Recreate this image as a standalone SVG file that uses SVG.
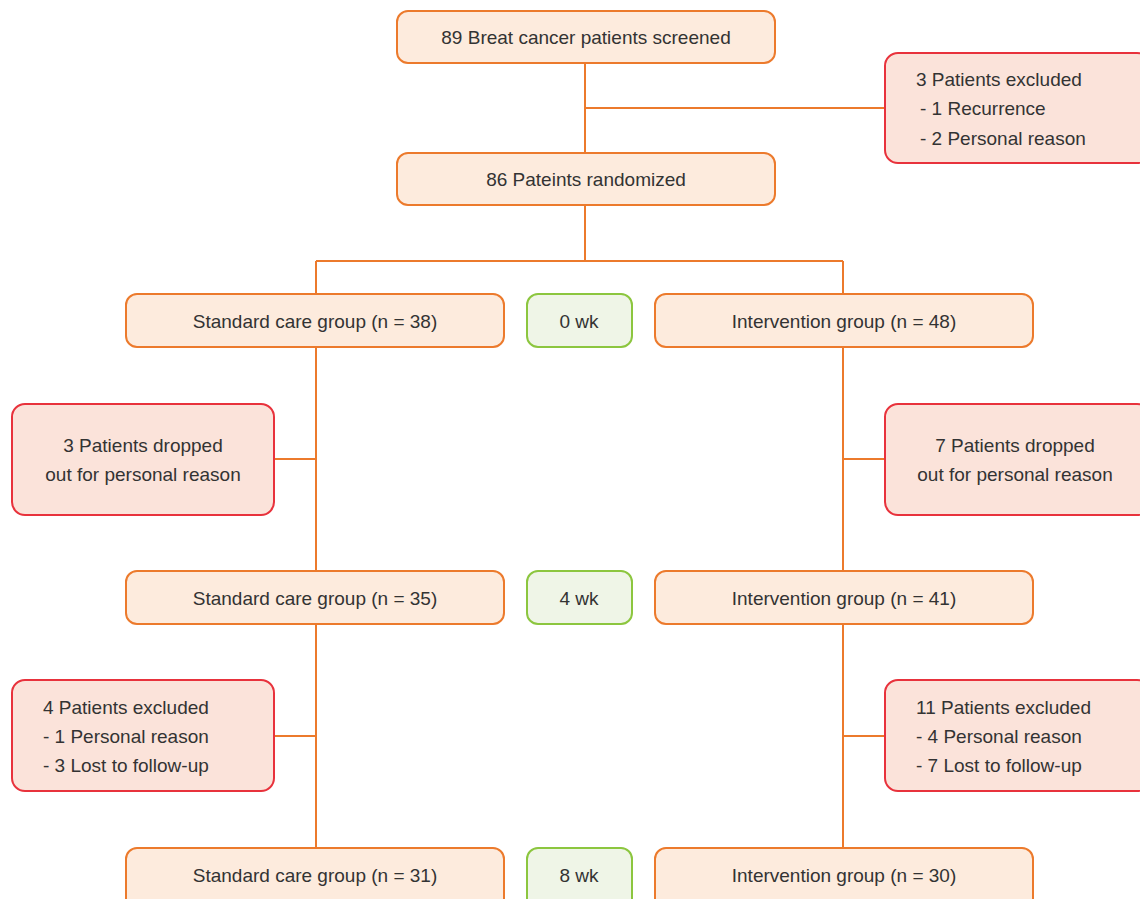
<svg xmlns="http://www.w3.org/2000/svg" width="1140" height="899" viewBox="0 0 1140 899">
<style>
.o{fill:#FDEBDD;stroke:#EC7A2C;stroke-width:2}
.r{fill:#FBE3DA;stroke:#E8323C;stroke-width:2}
.g{fill:#EFF5E7;stroke:#8CC63F;stroke-width:2}
text{font-family:"Liberation Sans","Noto Sans",sans-serif;font-size:19px;fill:#333}
.c{text-anchor:middle}
.ln{fill:none;stroke:#EC7A2C;stroke-width:2}
</style>
<rect width="1140" height="899" fill="#fff"/>
<g id="connectors">
<path class="ln" d="M585 63V153M585 108H885M585 205V261M316 261H843M316 261V294M843 261V294M316 347V571M316 459H274M843 347V571M843 459H885M316 624V848M316 736H274M843 624V848M843 736H885"/>
</g>
<g id="screened"><rect class="o" x="397" y="11" width="378" height="52" rx="11"/><text class="c" x="586" y="44">89 Breat cancer patients screened</text></g>
<g id="excl0"><rect class="r" x="885" y="53" width="265" height="110" rx="13"/><text x="916" y="86">3 Patients excluded</text><text x="920" y="115"> - 1 Recurrence</text><text x="920" y="145"> - 2 Personal reason</text></g>
<g id="randomized"><rect class="o" x="397" y="153" width="378" height="52" rx="11"/><text class="c" x="586" y="186">86 Pateints randomized</text></g>
<g id="std0"><rect class="o" x="126" y="294" width="378" height="53" rx="11"/><text class="c" x="315" y="328">Standard care group (n = 38)</text></g>
<g id="wk0"><rect class="g" x="527" y="294" width="105" height="53" rx="11"/><text class="c" x="579" y="328">0 wk</text></g>
<g id="int0"><rect class="o" x="655" y="294" width="378" height="53" rx="11"/><text class="c" x="844" y="328">Intervention group (n = 48)</text></g>
<g id="dropL"><rect class="r" x="12" y="404" width="262" height="111" rx="13"/><text class="c" x="143" y="452">3 Patients dropped</text><text class="c" x="143" y="481">out for personal reason</text></g>
<g id="dropR"><rect class="r" x="885" y="404" width="265" height="111" rx="13"/><text class="c" x="1015" y="452">7 Patients dropped</text><text class="c" x="1015" y="481">out for personal reason</text></g>
<g id="std4"><rect class="o" x="126" y="571" width="378" height="53" rx="11"/><text class="c" x="315" y="605">Standard care group (n = 35)</text></g>
<g id="wk4"><rect class="g" x="527" y="571" width="105" height="53" rx="11"/><text class="c" x="579" y="605">4 wk</text></g>
<g id="int4"><rect class="o" x="655" y="571" width="378" height="53" rx="11"/><text class="c" x="844" y="605">Intervention group (n = 41)</text></g>
<g id="exclL"><rect class="r" x="12" y="680" width="262" height="111" rx="13"/><text x="43" y="714">4 Patients excluded</text><text x="43" y="743">- 1 Personal reason</text><text x="43" y="772">- 3 Lost to follow-up</text></g>
<g id="exclR"><rect class="r" x="885" y="680" width="265" height="111" rx="13"/><text x="916" y="714">11 Patients excluded</text><text x="916" y="743">- 4 Personal reason</text><text x="916" y="772">- 7 Lost to follow-up</text></g>
<g id="std8"><rect class="o" x="126" y="848" width="378" height="62" rx="11"/><text class="c" x="315" y="882">Standard care group (n = 31)</text></g>
<g id="wk8"><rect class="g" x="527" y="848" width="105" height="62" rx="11"/><text class="c" x="579" y="882">8 wk</text></g>
<g id="int8"><rect class="o" x="655" y="848" width="378" height="62" rx="11"/><text class="c" x="844" y="882">Intervention group (n = 30)</text></g>
</svg>
